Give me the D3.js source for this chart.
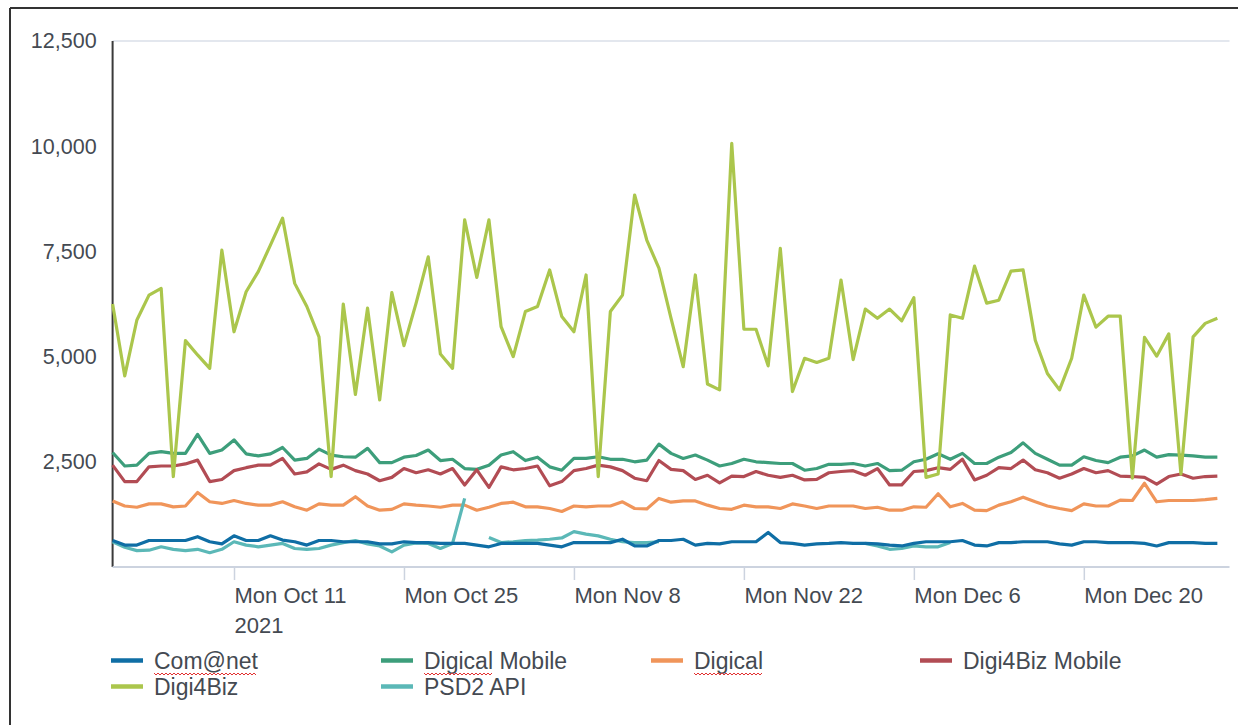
<!DOCTYPE html>
<html>
<head>
<meta charset="utf-8">
<script src="https://cdn.jsdelivr.net/npm/d3@7"></script>
<style>
  body { margin: 0; background: #fff; }
  svg { display: block; font-family: "Liberation Sans", Arial, sans-serif; }
</style>
</head>
<body>
<svg id="chart" width="1238" height="725"></svg>
<script>
// daily values, Fri Oct 1 2021 .. Fri Dec 31 2021
const startDay = new Date(2021, 9, 1);

const comnet = [630, 520, 520, 630, 630, 630, 630, 720, 600, 550, 740, 630, 630, 740, 640, 600, 520, 630, 630, 600,
  600, 600, 550, 550, 600, 580, 580, 560, 560, 560, 520, 480, 560, 560, 560, 560, 520, 480, 580, 580,
  580, 580, 660, 500, 500, 630, 630, 660, 520, 560, 550, 600, 600, 600, 820, 580, 560, 520, 550, 560,
  580, 560, 560, 550, 520, 500, 560, 600, 600, 600, 630, 520, 500, 580, 580, 600, 600, 600, 550, 520,
  600, 600, 580, 580, 580, 560, 500, 580, 580, 580, 560, 560];

const digicalMobile = [2720, 2400, 2420, 2700, 2740, 2700, 2700, 3150, 2700, 2780, 3020, 2690, 2640, 2690, 2840, 2540, 2580, 2800, 2660, 2620,
  2610, 2820, 2480, 2480, 2610, 2650, 2780, 2530, 2560, 2340, 2320, 2420, 2660, 2740, 2530, 2610, 2380, 2300, 2580, 2580,
  2620, 2560, 2560, 2500, 2540, 2920, 2700, 2580, 2660, 2540, 2400, 2460, 2560, 2500, 2480, 2460, 2460, 2300, 2340, 2440,
  2440, 2460, 2400, 2460, 2290, 2300, 2500, 2560, 2690, 2560, 2700, 2460, 2460, 2610, 2720, 2950, 2700, 2560, 2420, 2420,
  2620, 2530, 2480, 2610, 2640, 2780, 2610, 2670, 2660, 2640, 2610, 2610];

const digical = [1570, 1450, 1420, 1500, 1500, 1430, 1450, 1770, 1550, 1510, 1580, 1510, 1470, 1470, 1550, 1430, 1350, 1500, 1470, 1470,
  1670, 1450, 1350, 1370, 1500, 1470, 1450, 1420, 1470, 1470, 1350, 1420, 1510, 1540, 1430, 1430, 1390, 1320, 1450, 1430,
  1450, 1450, 1550, 1390, 1380, 1630, 1540, 1570, 1570, 1470, 1390, 1370, 1470, 1430, 1430, 1390, 1500, 1450, 1390, 1450,
  1450, 1450, 1390, 1420, 1350, 1350, 1430, 1420, 1740, 1430, 1510, 1350, 1340, 1470, 1550, 1660, 1550, 1450, 1390, 1340,
  1500, 1450, 1450, 1590, 1580, 1990, 1550, 1580, 1580, 1580, 1600, 1630];

const digi4bizMobile = [2420, 2030, 2030, 2380, 2400, 2400, 2450, 2540, 2030, 2080, 2290, 2360, 2420, 2420, 2580, 2210, 2260, 2450, 2320, 2420,
  2290, 2210, 2050, 2130, 2340, 2240, 2310, 2210, 2340, 1950, 2310, 1890, 2380, 2310, 2340, 2400, 1930, 2030, 2290, 2340,
  2420, 2380, 2290, 2110, 2050, 2530, 2320, 2290, 2080, 2180, 2000, 2160, 2150, 2270, 2180, 2130, 2180, 2070, 2080, 2240,
  2270, 2290, 2180, 2340, 1950, 1950, 2270, 2290, 2360, 2320, 2560, 2070, 2180, 2360, 2340, 2540, 2310, 2240, 2110, 2210,
  2340, 2240, 2290, 2160, 2150, 2130, 1970, 2150, 2210, 2110, 2150, 2160];

const digi4biz = [6250, 4540, 5870, 6460, 6620, 2150, 5380, 5040, 4720, 7530, 5590, 6540, 7020, 7650, 8290, 6740, 6190, 5470, 2150, 6250,
  4100, 6150, 3970, 6520, 5260, 6270, 7370, 5060, 4720, 8250, 6880, 8250, 5710, 5000, 6070, 6190, 7060, 5950, 5590, 6940,
  2150, 6070, 6460, 8840, 7770, 7100, 5910, 4760, 6940, 4350, 4210, 10070, 5650, 5650, 4780, 7570, 4170, 4960, 4860, 4960,
  6820, 4930, 6130, 5910, 6130, 5850, 6400, 2130, 2210, 5990, 5910, 7150, 6270, 6340, 7030, 7060, 5390, 4600, 4210, 4960,
  6460, 5700, 5960, 5960, 2110, 5460, 5010, 5540, 2210, 5470, 5790, 5910];

const psd2 = [600, 470, 390, 400, 480, 420, 390, 420, 340, 420, 600, 520, 480, 520, 560, 440, 420, 440, 520, 580,
  630, 550, 500, 360, 520, 570, 560, 440, 560, 1630, null, 700, 580, 600, 630, 640, 660, 690, 840, 780,
  740, 660, 600, 580, 580, 600, null, null, null, null, null, null, null, null, null, null, null, null, null, null,
  null, null, 560, 500, 420, 440, 500, 480, 480, 580, null, null, null, null, null, null, null, null, null, null,
  null, null, null, null, null, null, null, null, null, null, null, null];

const seriesNames = ['Com@net', 'Digical Mobile', 'Digical', 'Digi4Biz Mobile', 'Digi4Biz', 'PSD2 API'];
const seriesValues = [comnet, digicalMobile, digical, digi4bizMobile, digi4biz, psd2];
const seriesColors = ['#0f6ea5', '#3d9e7b', '#f0955a', '#b24c54', '#abc64c', '#5bb8b7'];
const yTicks = [2500, 5000, 7500, 10000, 12500];
const xTicks = [new Date(2021, 9, 11), new Date(2021, 9, 25), new Date(2021, 10, 8),
  new Date(2021, 10, 22), new Date(2021, 11, 6), new Date(2021, 11, 20)];

const textColor = '#444a52';
const svg = d3.select('#chart');

// frame lines of the screenshot
svg.append('line').attr('x1', 10).attr('x2', 1238).attr('y1', 8).attr('y2', 8)
  .attr('stroke', '#333').attr('stroke-width', 2);
svg.append('line').attr('x1', 10).attr('x2', 10).attr('y1', 8).attr('y2', 725)
  .attr('stroke', '#333').attr('stroke-width', 2);

const plotLeft = 112.6, plotRight = 1229.5, plotTop = 41, plotBottom = 567;

const x = d3.scaleTime()
  .domain([startDay, new Date(2022, 0, 1)])
  .range([plotLeft, plotRight]);

const y = d3.scaleLinear()
  .domain([0, 12500])
  .range([plotBottom, plotTop]);

// top grid line
svg.append('line')
  .attr('x1', plotLeft).attr('x2', plotRight)
  .attr('y1', y(12500)).attr('y2', y(12500))
  .attr('stroke', '#e3e7ee').attr('stroke-width', 2);

// y axis
const yAxis = svg.append('g')
  .attr('transform', 'translate(' + plotLeft + ',0)')
  .call(d3.axisLeft(y).tickValues(yTicks).tickSize(0).tickPadding(16).tickFormat(d3.format(',')));
yAxis.select('.domain').remove();
yAxis.selectAll('text')
  .attr('fill', textColor)
  .style('font-size', '21.5px');
svg.append('line')
  .attr('x1', plotLeft).attr('x2', plotLeft)
  .attr('y1', plotTop).attr('y2', plotBottom)
  .attr('stroke', '#3a3a3a').attr('stroke-width', 2);

// x axis
const xAxis = svg.append('g')
  .attr('transform', 'translate(0,' + plotBottom + ')')
  .call(d3.axisBottom(x).tickValues(xTicks).tickSize(13).tickFormat(d3.timeFormat('%a %b %-d')));
xAxis.select('.domain')
  .attr('stroke', '#ccd3df').attr('stroke-width', 2)
  .attr('d', 'M' + plotLeft + ',0H' + plotRight);
xAxis.selectAll('.tick line').attr('stroke', '#ccd3df').attr('stroke-width', 1.5);
xAxis.selectAll('.tick text')
  .attr('fill', textColor)
  .attr('text-anchor', 'start')
  .attr('y', 36)
  .attr('dy', 0)
  .style('font-size', '22px');
xAxis.select('.tick text')
  .append('tspan')
  .attr('x', 0)
  .attr('dy', 30)
  .text(d3.timeFormat('%Y')(xTicks[0]));

// lines
const line = d3.line()
  .defined(d => d.v !== null)
  .x(d => x(d.date))
  .y(d => y(d.v));

const drawOrder = [1, 3, 2, 5, 0, 4];
drawOrder.forEach(i => {
  const pts = seriesValues[i].map((v, k) => ({ date: d3.timeDay.offset(startDay, k), v: v }));
  svg.append('path')
    .datum(pts)
    .attr('fill', 'none')
    .attr('stroke', seriesColors[i])
    .attr('stroke-width', 3.2)
    .attr('stroke-linejoin', 'round')
    .attr('d', line);
});

// legend
const legendCols = [111, 381, 651, 920];
const legendRows = [660.5, 686.5];
const legendFont = '23px';
const legend = svg.append('g');
seriesNames.forEach((name, i) => {
  const gx = legendCols[i % 4];
  const gy = legendRows[Math.floor(i / 4)];
  const g = legend.append('g').attr('transform', 'translate(' + gx + ',' + gy + ')');
  g.append('line')
    .attr('x1', 0).attr('x2', 32)
    .attr('stroke', seriesColors[i]).attr('stroke-width', 4.5);
  g.append('text')
    .attr('x', 43)
    .attr('y', 8.5)
    .attr('fill', textColor)
    .style('font-size', legendFont)
    .text(name);
  // spell-check squiggle under the flagged word
  const flagged = name === 'Com@net' ? name : (name.startsWith('Digical') ? 'Digical' : null);
  if (flagged) {
    const probe = g.append('text').style('font-size', legendFont).text(flagged);
    const w = probe.node().getComputedTextLength();
    probe.remove();
    const wave = d3.path();
    wave.moveTo(43, 12.5);
    let k = 0;
    for (let px = 43 + 2; px <= 43 + w; px += 2, k++) {
      wave.lineTo(px, k % 2 ? 12.5 : 14.5);
    }
    g.append('path')
      .attr('d', wave.toString())
      .attr('fill', 'none')
      .attr('stroke', '#e23030')
      .attr('stroke-width', 1);
  }
});
</script>
</body>
</html>
